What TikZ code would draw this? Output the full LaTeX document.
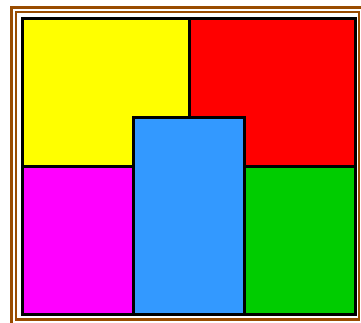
\documentclass[tikz,border=0pt]{standalone}
\usepackage{tikz}

\definecolor{rimbrown}{HTML}{994C00}
\definecolor{tileyellow}{HTML}{FFFF00}
\definecolor{tilered}{HTML}{FF0000}
\definecolor{tilemagenta}{HTML}{FF00FF}
\definecolor{tilegreen}{HTML}{00CC00}
\definecolor{tileblue}{HTML}{3399FF}

\begin{document}
\begin{tikzpicture}[
    x=1pt, y=-1pt,
    tile/.style={draw=black, line width=3pt},
    rim/.style={draw=rimbrown, line width=2.6pt}
]
\useasboundingbox (0,0) rectangle (361,323);
\clip (0,0) rectangle (361,323);

% Frame
\draw[rim] (11.5,7.5) rectangle (366,328);
\draw[rim] (16,12) rectangle (359,319.5);

% Tiles
\filldraw[tile, fill=tileyellow] (22.5,18.5) rectangle (189.5,166.5);
\filldraw[tile, fill=tilered] (189.5,18.5) rectangle (355.5,166.5);
\filldraw[tile, fill=tilemagenta] (22.5,166.5) rectangle (133.5,314.5);
\filldraw[tile, fill=tilegreen] (244.5,166.5) rectangle (355.5,314.5);
\filldraw[tile, fill=tileblue] (133.5,117.5) rectangle (244.5,314.5);

\end{tikzpicture}
\end{document}
